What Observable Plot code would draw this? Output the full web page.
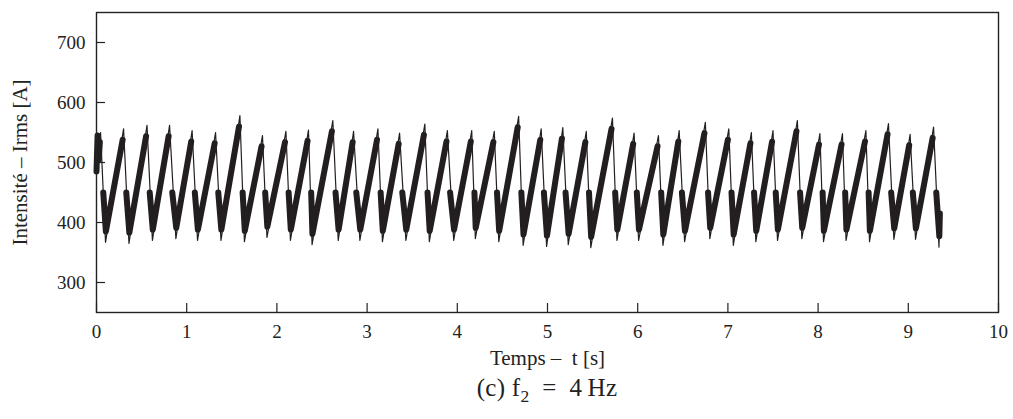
<!DOCTYPE html>
<html><head><meta charset="utf-8">
<script src="https://cdn.jsdelivr.net/npm/d3@7"></script>
<script src="https://cdn.jsdelivr.net/npm/@observablehq/plot@0.6"></script>
<style>
body{margin:0;background:#fff;}
#wrap{position:relative;width:1013px;height:419px;}
#caption{font-family:"Liberation Serif",serif;font-size:25px;color:#222;position:absolute;left:0;width:1094px;text-align:center;top:374px;line-height:28px;letter-spacing:0.3px;}
#caption sub{font-size:0.7em;}
</style></head><body>
<div id="wrap"><div id="chart"></div>
<div id="caption">(c) f<sub>2</sub>&ensp;=&ensp;4&#8201;Hz</div></div>
<script>
// Readings from the picture (time in s, current in A)
const xTicks = [0,1,2,3,4,5,6,7,8,9,10];
const yTicks = [300,400,500,600,700];
const startT = [0, 0.012, 0.025];
const startV = [485, 545, 505];
const peakT = [0.045,0.30,0.56,0.81,1.06,1.32,1.59,1.84,2.10,2.35,2.62,2.85,3.12,3.36,3.64,3.89,4.16,4.41,4.68,4.93,5.17,5.43,5.72,5.96,6.23,6.46,6.75,7.01,7.26,7.50,7.77,8.02,8.27,8.53,8.78,9.02,9.28];
const peakV = [550,556,562,562,553,550,578,545,552,554,570,552,556,549,564,553,553,552,577,556,558,552,574,549,545,553,567,556,550,553,570,548,548,553,565,547,559];
const troughT = [0.10,0.36,0.62,0.88,1.12,1.38,1.64,1.89,2.15,2.39,2.68,2.92,3.17,3.43,3.69,3.96,4.20,4.46,4.73,4.99,5.23,5.48,5.77,6.01,6.28,6.52,6.80,7.06,7.31,7.55,7.82,8.06,8.31,8.57,8.84,9.08,9.34];
const troughV = [367,365,370,373,370,370,368,375,370,363,370,370,368,370,368,370,373,368,362,360,363,358,370,370,362,368,373,362,368,370,373,368,370,368,372,372,359];
const kneeV = 450;       // where the noisy band begins on each fall
const bandLow = 18;      // noisy band sits this far above the spike minimum
const endT = 9.35, endV = 415;

// thin trace
const thin = [];
startT.forEach((t,i)=>thin.push({t, v:startV[i]}));
peakT.forEach((t,i)=>{ thin.push({t, v:peakV[i]}); thin.push({t:troughT[i], v:troughV[i]}); });
thin.push({t:endT, v:endV});

// thick noisy band
const thick = [];
startT.forEach((t,i)=>thick.push({t, v:startV[i], z:-1}));
thick.push({t:peakT[0]-0.008, v:peakV[0]-16, z:-1});
peakT.forEach((t,i)=>{
  thick.push({t:t+0.03, v:kneeV, z:i});
  thick.push({t:troughT[i]+0.004, v:troughV[i]+bandLow, z:i});
  if (i < peakT.length-1) thick.push({t:peakT[i+1]-0.01, v:peakV[i+1]-18, z:i});
  else thick.push({t:endT, v:endV, z:i});
});

const ink = "#231f20";
const font = "Liberation Serif, serif";
const chart = Plot.plot({
  width: 1013, height: 370,
  marginTop: 12, marginBottom: 58, marginLeft: 96, marginRight: 15,
  style: {fontFamily: font, fontSize: "19px", color: "#222", background: "#fff"},
  x: {domain: [0,10], ticks: xTicks, tickSize: 0, tickPadding: 12, label: null},
  y: {domain: [250,750], ticks: yTicks, tickSize: 0, tickPadding: 11, label: null},
  marks: [
    Plot.tickY(yTicks, {y: d=>d, stroke: "#222", strokeWidth: 1.2, insetRight: 893}),
    Plot.tickX(xTicks, {x: d=>d, stroke: "#222", strokeWidth: 1.2, insetTop: 291}),
    Plot.line(thick, {x:"t", y:"v", z:"z", stroke: ink, strokeWidth: 6, curve: "linear"}),
    Plot.line(thin, {x:"t", y:"v", stroke: ink, strokeWidth: 1.2}),
    Plot.frame({stroke: "#222", strokeWidth: 1.4}),
    Plot.text(["Temps \u2013  t [s]"], {frameAnchor: "bottom", dy: 46, textAnchor: "middle", lineAnchor: "middle", fontSize: 21, letterSpacing: 0.8, fill: "#222"}),
    Plot.text(["Intensit\u00e9 \u2013 Irms [A]"], {frameAnchor: "left", dx: -76, rotate: -90, textAnchor: "middle", lineAnchor: "middle", fontSize: 21, letterSpacing: 1.2, fill: "#222"})
  ]
});
document.getElementById("chart").appendChild(chart);
</script>
</body></html>
